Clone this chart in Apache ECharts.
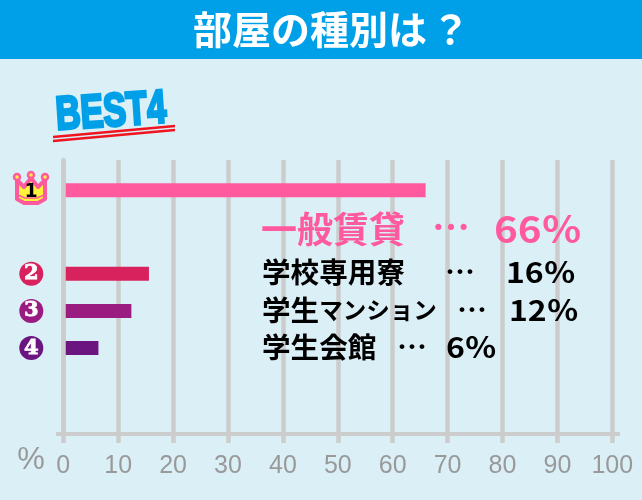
<!DOCTYPE html>
<html>
<head>
<meta charset="utf-8">
<style>html,body{margin:0;padding:0;background:#dbeff7}</style>
<script src="https://cdn.jsdelivr.net/npm/echarts@6/dist/echarts.min.js"></script>
</head>
<body>
<div id="main" style="width:642px;height:500px"></div>
<script>
var titleText = '部屋の種別は？';
var rankNames = ['一般賃貸', '学校専用寮', '学生マンション', '学生会館'];
var rankValues = [66, 15.6, 12.4, 6.4];
var rankLabels = ['1', '2', '3', '4'];
var tickValues = [0, 10, 20, 30, 40, 50, 60, 70, 80, 90, 100];

var cjk = '"Noto Sans CJK JP"';
var sans = '"Liberation Sans"';
var rankColors = ['#ff5a9e', '#d8225e', '#9b1c80', '#6a1580'];

// 行の間隔が不揃いなので細かいカテゴリに分けて、空きは空白にする
var rowCount = 59;
var rankRows = [6, 24, 32, 40];
var rows = [], barData = [];
for (var i = 0; i < rowCount; i++) {
    rows.push('');
    barData.push(null);
}
rankRows.forEach(function (r, i) {
    rows[r] = rankLabels[i];
    barData[r] = {value: rankValues[i], itemStyle: {color: rankColors[i]}};
});

function txt(x, y, text, size, color, extra) {
    var style = {x: x, y: y, text: text, fontSize: size, fontWeight: 'bold', fontFamily: cjk,
        fill: color, verticalAlign: 'middle'};
    for (var k in (extra || {})) style[k] = extra[k];
    return {type: 'text', z: 20, style: style};
}

// 数字は横長なので少し伸ばす
function pct(x, y, i, size, color, sx) {
    return {type: 'text', z: 20, x: x, y: y, scaleX: sx, style: {
        x: 0, y: 0, text: Math.round(rankValues[i]) + '％', fontSize: size, fontWeight: 'bold',
        fontFamily: cjk, fill: color, verticalAlign: 'middle'}};
}

var medalRich = {backgroundColor: '#000', color: '#fff', width: 24, height: 24, lineHeight: 24, borderRadius: 12,
    align: 'center', fontSize: 21, fontWeight: 'bold', fontFamily: 'DejaVu Serif', textBorderColor: '#fff', textBorderWidth: 0.8};
var rich = {};
[1, 2, 3].forEach(function (i) {
    rich['r' + rankLabels[i]] = Object.assign({}, medalRich, {backgroundColor: rankColors[i]});
});

var graphic = [
    {type: 'rect', z: 1, shape: {x: 0, y: 0, width: 642, height: 59}, style: {fill: '#00a0e9'}},
    txt(193, 29, titleText.slice(0, -1), 39, '#fff'),
    txt(431, 29, titleText.slice(-1), 39, '#fff'),
    {type: 'text', z: 20, x: 111, y: 113, rotation: 3.8 * Math.PI / 180, scaleX: 0.73,
        style: {x: 0, y: 0, text: 'BEST4', fontSize: 47, fontWeight: 'bold', fontFamily: sans,
            fill: '#00a0e9', stroke: '#00a0e9', lineWidth: 3, align: 'center', verticalAlign: 'middle'}},
    {type: 'line', z: 19, shape: {x1: 53, y1: 137, x2: 175, y2: 126}, style: {stroke: '#f0141e', lineWidth: 2.5}},
    {type: 'line', z: 19, shape: {x1: 53, y1: 141, x2: 175, y2: 130}, style: {stroke: '#f0141e', lineWidth: 2.5}},
    // 軸線の左右のはみ出し
    {type: 'rect', z: 3, shape: {x: 56, y: 432, width: 564, height: 4}, style: {fill: '#cccccc'}},
    txt(31, 460, '%', 31, '#999999', {align: 'center', fontFamily: sans, fontWeight: 'normal'}),
    // 王冠
    {type: 'polygon', z: 20, shape: {points: [[17, 180], [24, 187], [31, 178], [38, 187], [45, 180], [45, 199], [38, 203], [24, 203], [17, 199]]},
        style: {fill: '#fff23b', stroke: '#ff5a9e', lineWidth: 4, lineJoin: 'round'}},
    {type: 'polyline', z: 21, shape: {points: [[18, 195], [25, 198], [37, 198], [44, 195]]}, style: {stroke: '#ff5a9e', lineWidth: 1.5, fill: null}},
    {type: 'circle', z: 21, shape: {cx: 17, cy: 177, r: 3}, style: {fill: '#fff23b', stroke: '#ff5a9e', lineWidth: 2.5}},
    {type: 'circle', z: 21, shape: {cx: 31, cy: 175, r: 3}, style: {fill: '#fff23b', stroke: '#ff5a9e', lineWidth: 2.5}},
    {type: 'circle', z: 21, shape: {cx: 45, cy: 177, r: 3}, style: {fill: '#fff23b', stroke: '#ff5a9e', lineWidth: 2.5}},
    txt(31, 192, rankLabels[0], 19, '#000', {align: 'center', fontFamily: 'DejaVu Sans'}),
    // ランキングの文字
    txt(261, 229, rankNames[0], 36, rankColors[0]),
    txt(451, 227, '…', 38, rankColors[0], {align: 'center'}),
    pct(494, 229, 0, 36, rankColors[0], 1.12),
    txt(262, 272, rankNames[1], 28.6, '#000'),
    txt(460, 272, '…', 30, '#000', {align: 'center'}),
    pct(506, 272, 1, 28, '#000', 1.14),
    txt(262, 310, '{a|' + rankNames[2].slice(0, 2) + '}{b|' + rankNames[2].slice(2) + '}', 28.6, '#000',
        {rich: {a: {fontSize: 28.6, fontWeight: 'bold', fontFamily: cjk}, b: {fontSize: 23.5, fontWeight: 'bold', fontFamily: cjk}}}),
    txt(472, 310, '…', 30, '#000', {align: 'center'}),
    pct(509, 310, 2, 28, '#000', 1.14),
    txt(262, 347, rankNames[3], 28.6, '#000'),
    txt(412, 347, '…', 30, '#000', {align: 'center'}),
    pct(446, 347, 3, 28, '#000', 1.14)
];

var chart = echarts.init(document.getElementById('main'));
chart.setOption({
    animation: false,
    backgroundColor: '#dbeff7',
    grid: {left: 63.3, right: 29.7, top: 160, bottom: 66},
    xAxis: {
        type: 'value', min: 0, max: 100, interval: 10,
        axisLine: {show: false},
        axisTick: {show: true, length: 9, lineStyle: {color: '#cccccc', width: 4.5}},
        splitLine: {show: true, lineStyle: {color: '#cccccc', width: 4.5}},
        axisLabel: {
            color: '#999999', fontSize: 25, fontFamily: sans, margin: 20,
            formatter: function (v) { return tickValues.indexOf(v) >= 0 ? String(v) : ''; }
        }
    },
    yAxis: {
        type: 'category', inverse: true, data: rows, z: 5,
        axisLine: {show: true, lineStyle: {color: '#cccccc', width: 4.5}},
        axisTick: {show: false},
        axisLabel: {
            interval: 0, margin: 20,
            formatter: function (v) { return v && v !== rankLabels[0] ? '{r' + v + '|' + v + '}' : ''; },
            rich: rich
        }
    },
    series: [{type: 'bar', data: barData, barWidth: 14, barGap: 0, z: 2}],
    graphic: graphic
});
</script>
</body>
</html>
